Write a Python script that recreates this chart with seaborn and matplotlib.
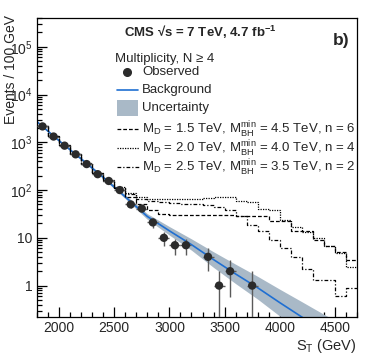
import numpy as np
import matplotlib
matplotlib.use("Agg")
import matplotlib.pyplot as plt
import matplotlib.ticker as mt
import seaborn as sns
from matplotlib.lines import Line2D
from matplotlib.patches import Rectangle

# ---------------- data ----------------
obs_st = [1850, 1950, 2050, 2150, 2250, 2350, 2450, 2550, 2650, 2750,
          2850, 2950, 3050, 3150, 3250, 3350, 3450, 3550, 3650, 3750]
observed = [2150, 1320, 850, 560, 350, 215, 155, 100, 50, 41,
            21, 10, 7, 7, 0, 4, 1, 2, 0, 1]

bkg_st = [1800, 2000, 2200, 2400, 2600, 2800, 3000, 3200, 3400, 3600,
          3800, 4000, 4200, 4400, 4600]
background = [2700, 1080, 450, 185, 72, 28, 14, 7.2, 3.5, 1.75,
              0.9, 0.44, 0.22, 0.11, 0.055]
band_low = [2580, 1030, 425, 173, 66, 24.4, 11.4, 5.5, 2.4, 1.1,
            0.52, 0.23, 0.105, 0.048, 0.022]
band_high = [2830, 1130, 475, 198, 79, 32, 17.2, 9.5, 5.1, 2.8,
             1.56, 0.84, 0.46, 0.25, 0.14]

sig_st = [1850, 1950, 2050, 2150, 2250, 2350, 2450, 2550, 2650, 2750,
          2850, 2950, 3050, 3150, 3250, 3350, 3450, 3550, 3650, 3750,
          3850, 3950, 4050, 4150, 4250, 4350, 4450, 4550, 4650]
sig_md15_n6 = [2180, 1340, 860, 565, 355, 225, 158, 108, 70, 50,
               38, 31, 30, 30, 30, 30, 30, 30, 29, 28,
               28, 22, 22, 14, 14, 9, 6.6, 5, 3.5]
sig_md20_n4 = [2200, 1350, 870, 570, 360, 230, 160, 115, 85, 72,
               66, 64, 64, 65, 66, 68, 70, 70, 60, 55,
               40, 38, 24, 17, 13, 10, 6.6, 4.9, 2.5]
sig_md25_n2 = [2190, 1345, 865, 568, 358, 228, 162, 112, 82, 66,
               58, 55, 54, 52, 50, 48, 45, 39, 28, 19,
               14, 9, 6.2, 4, 2.2, 1.3, 1.3, 0.6, 0.9]

sig_labels = [r"M$_{\rm D}$ = 1.5 TeV, M$_{\rm BH}^{\rm min}$ = 4.5 TeV, n = 6",
              r"M$_{\rm D}$ = 2.0 TeV, M$_{\rm BH}^{\rm min}$ = 4.0 TeV, n = 4",
              r"M$_{\rm D}$ = 2.5 TeV, M$_{\rm BH}^{\rm min}$ = 3.5 TeV, n = 2"]

# ---------------- style ----------------
sns.set_style("ticks")
plt.rcParams["font.family"] = ["Liberation Sans", "DejaVu Sans"]
plt.rcParams["mathtext.fontset"] = "custom"
plt.rcParams["mathtext.rm"] = "Liberation Sans"
plt.rcParams["mathtext.it"] = "Liberation Sans:italic"
plt.rcParams["mathtext.bf"] = "Liberation Sans:bold"

W, H = 374, 355
fig = plt.figure(figsize=(W / 100, H / 100), dpi=100)
ax = fig.add_axes([37 / W, 1 - 317 / H, (357 - 37) / W, (317 - 18) / H])

BLUE = "#1f6fd2"
BAND = "#a9b9c7"

# uncertainty band + background
ax.fill_between(bkg_st, band_low, band_high, color=BAND, lw=0, zorder=1)
sns.lineplot(x=bkg_st, y=background, ax=ax, color=BLUE, lw=1.2,
             estimator=None, zorder=2)

# signal histograms
styles = [(0, (3, 1.6)), (0, (1, 1)), (0, (3, 1.6, 1, 1.6))]
for vals, ls in zip([sig_md15_n6, sig_md20_n4, sig_md25_n2], styles):
    edges = list(np.array(sig_st) - 50) + [sig_st[-1] + 50]
    yv = list(vals) + [vals[-1]]
    sns.lineplot(x=edges, y=yv, ax=ax, color="black", lw=0.9,
                 linestyle=ls, drawstyle="steps-post", estimator=None,
                 zorder=3)

# observed data
obs_x = np.array([x for x, n in zip(obs_st, observed) if n > 0])
obs_n = np.array([n for n in observed if n > 0], dtype=float)
err = np.sqrt(obs_n)
ax.errorbar(obs_x, obs_n, yerr=err, xerr=50, fmt="none", ecolor="#5a5a5a",
            elinewidth=1.0, capsize=0, zorder=4)
sns.scatterplot(x=obs_x, y=obs_n, ax=ax, color="#2b2b2b", s=36,
                edgecolor="none", zorder=5)

# axes
ax.set_yscale("log")
ax.set_xlim(1800, 4700)
ax.set_ylim(0.22, 4e5)
ax.xaxis.set_major_locator(mt.MultipleLocator(500))
ax.xaxis.set_minor_locator(mt.MultipleLocator(100))
ax.yaxis.set_major_locator(mt.LogLocator(base=10, numticks=20))
ax.yaxis.set_minor_locator(mt.LogLocator(base=10, subs=np.arange(2, 10), numticks=20))
ax.yaxis.set_minor_formatter(mt.NullFormatter())


def yfmt(v, pos):
    e = int(round(np.log10(v)))
    if e == 0:
        return "1"
    if e == 1:
        return "10"
    return r"$\mathregular{10^{%d}}$" % e


ax.yaxis.set_major_formatter(mt.FuncFormatter(yfmt))
ax.tick_params(which="both", direction="in", top=False, right=False,
               labelsize=10, width=0.9, color="black")
ax.tick_params(which="major", length=7, pad=3)
ax.tick_params(which="minor", length=3.5)
for s in ax.spines.values():
    s.set_visible(True)
    s.set_linewidth(0.9)
    s.set_color("black")

ax.set_xlabel(r"S$_{\rm T}$ (GeV)", fontsize=10.5, loc="right", labelpad=1)
ax.set_ylabel("Events / 100 GeV", fontsize=10, loc="top")
ax.yaxis.set_label_coords((18 - 37) / 320, 1.01)

# header texts
fig.text(124 / W, 1 - 32 / H, r"CMS √s = 7 TeV, 4.7 fb$^{\mathbf{-1}}$",
         fontsize=9.5, fontweight="bold", va="center", ha="left")
fig.text(333 / W, 1 - 41 / H, "b)", fontsize=12.5, fontweight="bold",
         va="center", ha="left")
fig.text(115 / W, 1 - 59 / H, "Multiplicity, N ≥ 4", fontsize=9.5,
         va="center", ha="left")

# legend (drawn by hand)
tx = 142 / W
x0, x1 = 117 / W, 138 / W
ys = [72, 90, 108]
fig.text(tx, 1 - ys[0] / H, "Observed", fontsize=9.5, va="center")
fig.add_artist(Line2D([(x0 + x1) / 2], [1 - ys[0] / H], marker="o",
                      markersize=5.5, color="#2b2b2b", lw=0,
                      transform=fig.transFigure))
fig.text(tx, 1 - ys[1] / H, "Background", fontsize=9.5, va="center")
fig.add_artist(Line2D([x0, x1], [1 - ys[1] / H] * 2, color=BLUE, lw=1.2,
                      transform=fig.transFigure))
fig.text(tx, 1 - ys[2] / H, "Uncertainty", fontsize=9.5, va="center")
fig.add_artist(Rectangle((x0, 1 - 116 / H), x1 - x0, 16 / H, color=BAND,
                         lw=0, transform=fig.transFigure))
for yy, lab, ls in zip([130, 149, 168], sig_labels, styles):
    fig.text(tx, 1 - yy / H, lab, fontsize=9.5, va="center")
    fig.add_artist(Line2D([x0, x1 + 1 / W], [1 - (yy - 1) / H] * 2,
                          color="black", lw=0.9, linestyle=ls,
                          transform=fig.transFigure))

fig.savefig("out.png", dpi=100)
